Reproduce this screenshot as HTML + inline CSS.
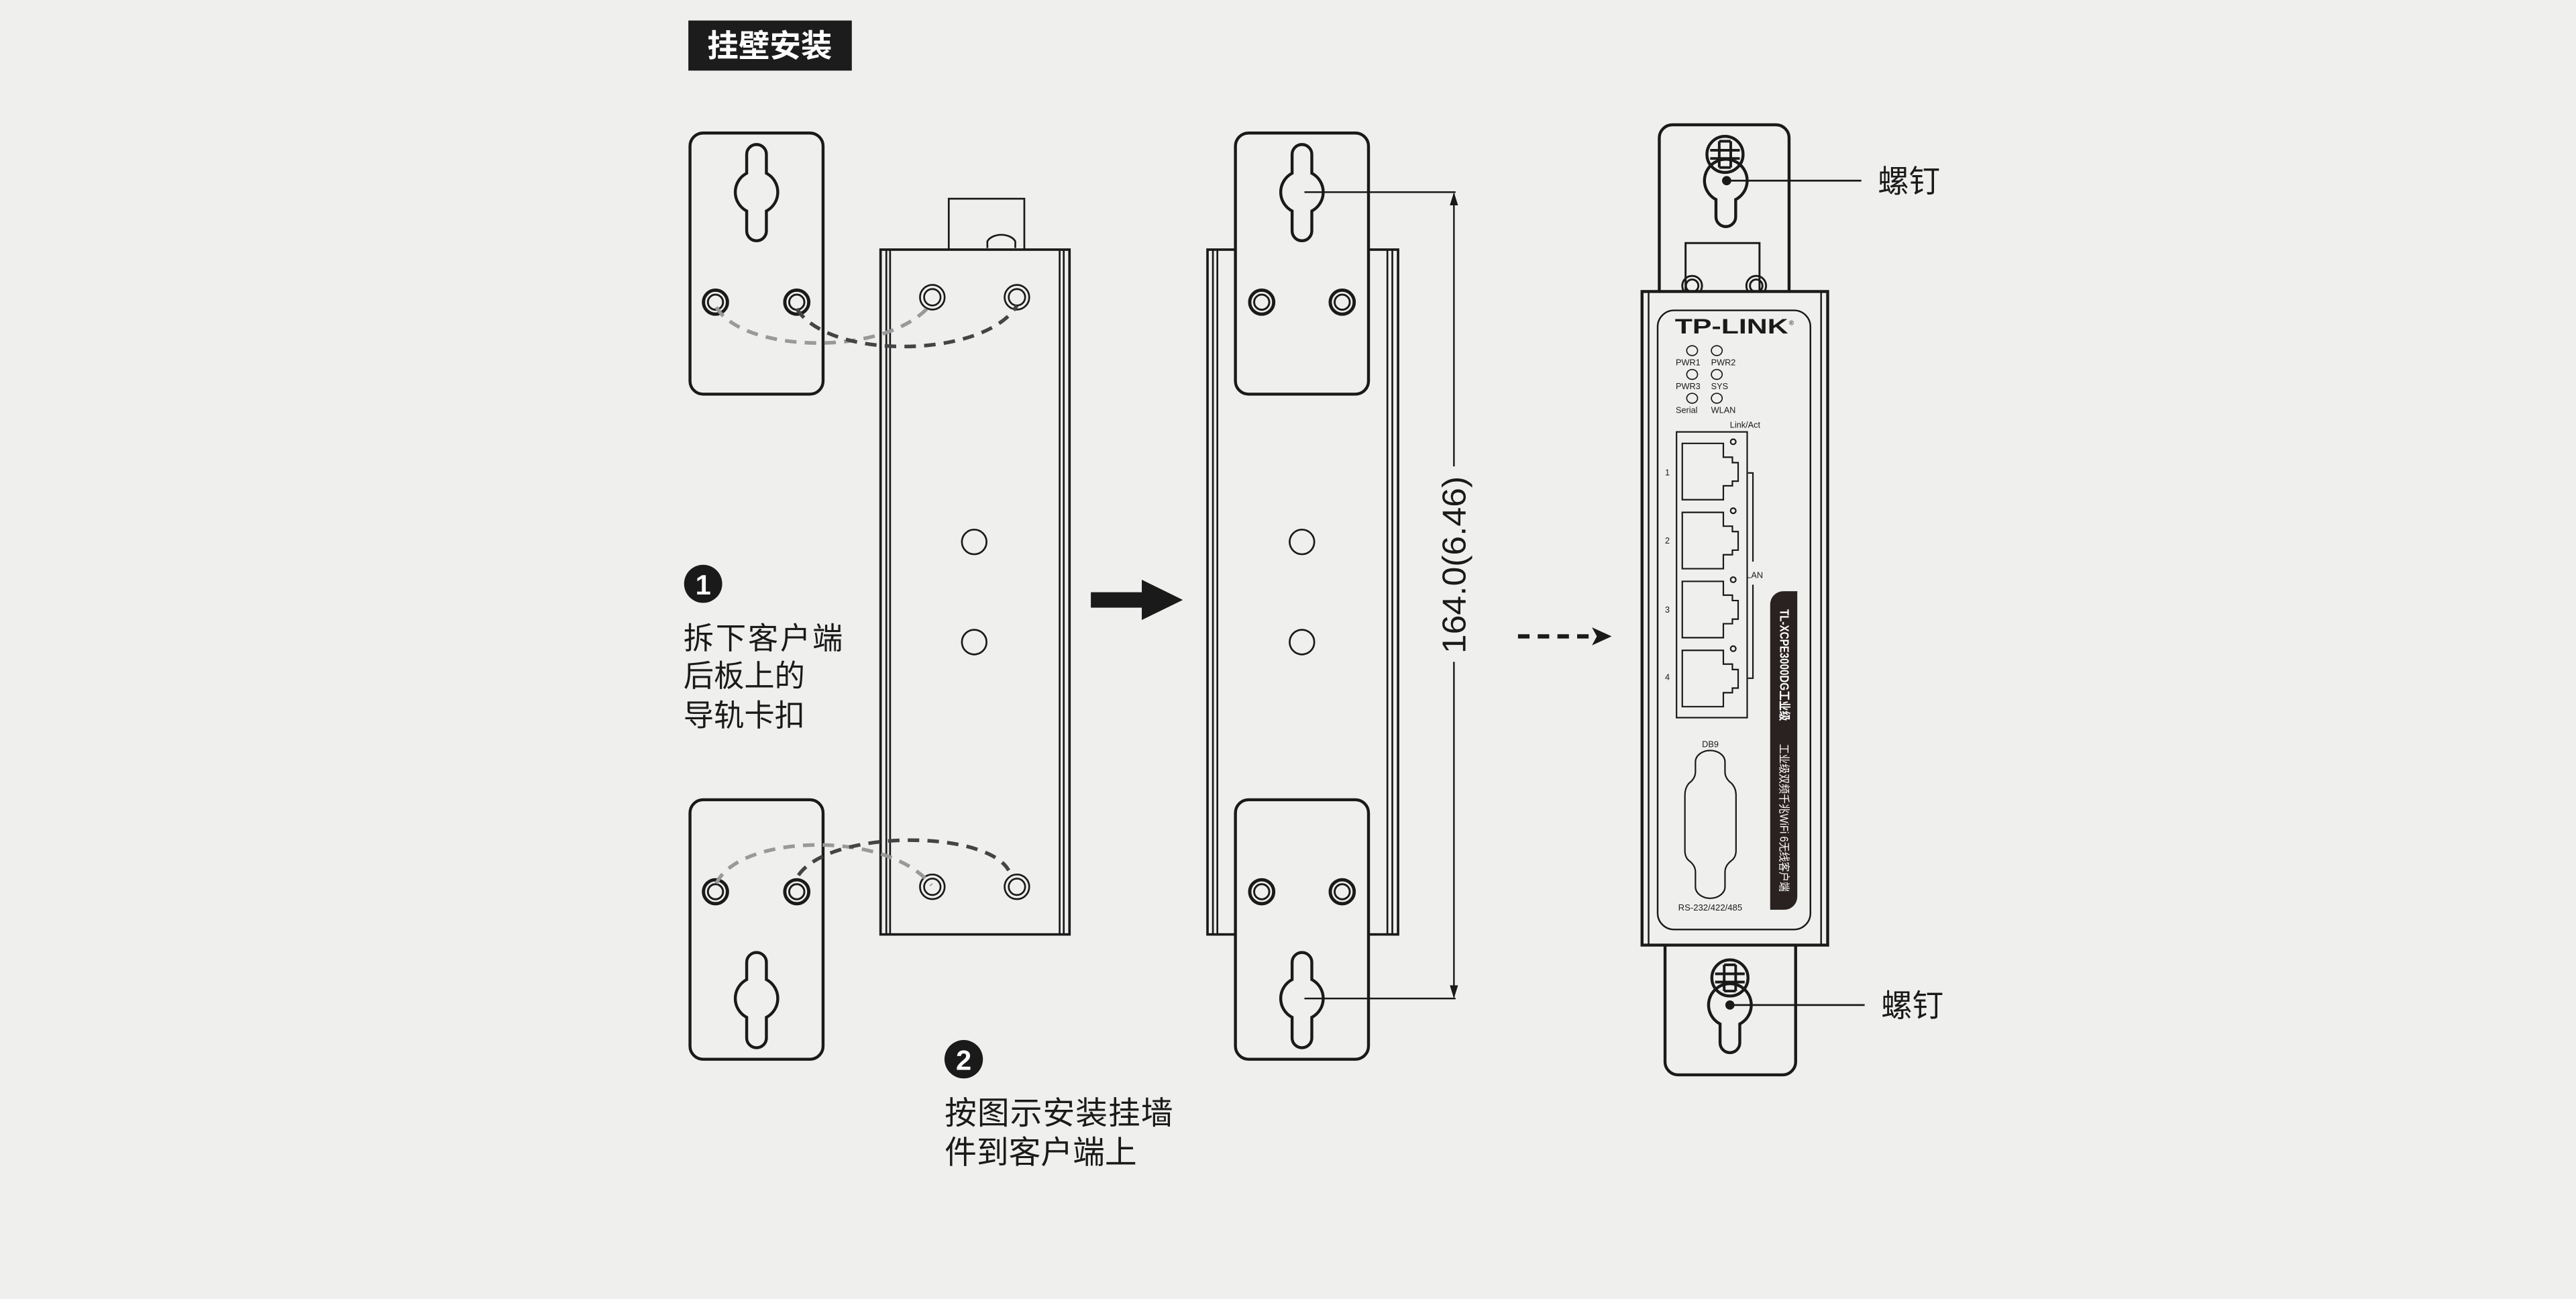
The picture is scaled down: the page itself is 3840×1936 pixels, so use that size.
<!DOCTYPE html>
<html><head><meta charset="utf-8"><style>
html,body{margin:0;padding:0;background:#efefee;}
svg{display:block;}
</style></head><body>
<svg width="3840" height="1936" viewBox="0 0 1568 791" preserveAspectRatio="none" xmlns="http://www.w3.org/2000/svg">
<rect x="0" y="0" width="1568" height="791" fill="#efefee"/>
<defs>
<marker id="ah" markerWidth="8" markerHeight="8" refX="7" refY="4" orient="auto" markerUnits="userSpaceOnUse"><path d="M0,0 L8,4 L0,8 Z" fill="#222"/></marker>
</defs>

<!-- title -->
<rect x="419" y="12.5" width="99.5" height="30.5" fill="#1c1c1c"/>
<text x="468.5" y="34.5" font-family="'Noto Sans CJK SC',sans-serif" font-weight="bold" font-size="19" fill="#fff" text-anchor="middle">挂壁安装</text>

<g fill="none" stroke="#1a1a1a" stroke-width="1.8">
<!-- LEFT: plates -->
<rect x="420" y="81" width="81" height="159" rx="8"/>
<path d="M454.5,94 A6,6 0 0 1 466.5,94 L466.5,105.5 A13,13 0 0 1 466.5,128.5 L466.5,140.6 A6,6 0 0 1 454.5,140.6 L454.5,128.5 A13,13 0 0 1 454.5,105.5 Z"/>
<circle cx="435.5" cy="184" r="7.3" stroke-width="2"/><circle cx="435.5" cy="184" r="4.6" stroke-width="1.2"/>
<circle cx="485" cy="184" r="7.3" stroke-width="2"/><circle cx="485" cy="184" r="4.6" stroke-width="1.2"/>
<rect x="420" y="487" width="81" height="158" rx="8"/>
<path d="M454.5,586 A6,6 0 0 1 466.5,586 L466.5,596.5 A13,13 0 0 1 466.5,619.5 L466.5,632 A6,6 0 0 1 454.5,632 L454.5,619.5 A13,13 0 0 1 454.5,596.5 Z"/>
<circle cx="435.5" cy="543" r="7.3" stroke-width="2"/><circle cx="435.5" cy="543" r="4.6" stroke-width="1.2"/>
<circle cx="485" cy="543" r="7.3" stroke-width="2"/><circle cx="485" cy="543" r="4.6" stroke-width="1.2"/>
</g>

<!-- LEFT device body -->
<g fill="none" stroke="#1a1a1a" stroke-width="1.1">
<rect x="577.5" y="121" width="46" height="31"/>
<path d="M601,151 L601,147 A9,6 0 0 1 618,147 L618,151" />
<rect x="536" y="152" width="115" height="417" stroke-width="1.5"/>
<line x1="539.5" y1="152" x2="539.5" y2="569"/><line x1="541.8" y1="152" x2="541.8" y2="569"/>
<line x1="645" y1="152" x2="645" y2="569"/><line x1="647.5" y1="152" x2="647.5" y2="569"/>
<circle cx="567.5" cy="181" r="7.5"/><circle cx="567.5" cy="181" r="5"/>
<circle cx="619" cy="181" r="7.5"/><circle cx="619" cy="181" r="5"/>
<circle cx="567.5" cy="540" r="7.5"/><circle cx="567.5" cy="540" r="5"/>
<circle cx="619" cy="540" r="7.5"/><circle cx="619" cy="540" r="5"/>
<circle cx="593" cy="330" r="7.5"/><circle cx="593" cy="391" r="7.5"/>
</g>

<!-- dashed curves -->
<g fill="none" stroke-width="2.2" stroke-dasharray="7,5">
<path d="M436,187 C452,215 540,218 567,185" stroke="#999"/>
<path d="M485,188 C505,220 600,218 619,186" stroke="#444"/>
<path d="M436,538 C450,508 540,505 567,539" stroke="#999"/>
<path d="M486,533 C505,505 600,505 614,530" stroke="#444"/>
</g>

<!-- solid arrow -->
<path d="M664,360.6 L695,360.6 L695,353 L720,365.3 L695,377.5 L695,370 L664,370 Z" fill="#1a1a1a"/>

<!-- MIDDLE device -->
<g fill="none" stroke="#1a1a1a" stroke-width="1.1">
<rect x="735" y="152" width="116" height="417" stroke-width="1.5"/>
<line x1="738.3" y1="152" x2="738.3" y2="569"/><line x1="741" y1="152" x2="741" y2="569"/>
<line x1="844.5" y1="152" x2="844.5" y2="569"/><line x1="847.5" y1="152" x2="847.5" y2="569"/>
<circle cx="792.5" cy="330" r="7.5"/><circle cx="792.5" cy="391" r="7.5"/>
</g>
<g fill="#efefee" stroke="#1a1a1a" stroke-width="1.8">
<rect x="752" y="81" width="81" height="159" rx="8"/>
<rect x="752" y="487" width="81" height="158" rx="8"/>
</g>
<g fill="none" stroke="#1a1a1a" stroke-width="1.8">
<path d="M786.5,94 A6,6 0 0 1 798.5,94 L798.5,105.5 A13,13 0 0 1 798.5,128.5 L798.5,140.6 A6,6 0 0 1 786.5,140.6 L786.5,128.5 A13,13 0 0 1 786.5,105.5 Z"/>
<path d="M786.5,586 A6,6 0 0 1 798.5,586 L798.5,596.5 A13,13 0 0 1 798.5,619.5 L798.5,632 A6,6 0 0 1 786.5,632 L786.5,619.5 A13,13 0 0 1 786.5,596.5 Z"/>
<circle cx="768" cy="184" r="7.3" stroke-width="2"/><circle cx="768" cy="184" r="4.6" stroke-width="1.2"/>
<circle cx="817" cy="184" r="7.3" stroke-width="2"/><circle cx="817" cy="184" r="4.6" stroke-width="1.2"/>
<circle cx="768" cy="543" r="7.3" stroke-width="2"/><circle cx="768" cy="543" r="4.6" stroke-width="1.2"/>
<circle cx="817" cy="543" r="7.3" stroke-width="2"/><circle cx="817" cy="543" r="4.6" stroke-width="1.2"/>
</g>
<!-- dimension -->
<g stroke="#1a1a1a" stroke-width="1" fill="none">
<line x1="794" y1="117" x2="886" y2="117"/>
<line x1="794" y1="608" x2="886" y2="608"/>
<line x1="885" y1="118" x2="885" y2="284"/>
<line x1="885" y1="403" x2="885" y2="607"/>
</g>
<path d="M885,117 L882.5,125 L887.5,125 Z" fill="#1a1a1a"/>
<path d="M885,608 L882.5,600 L887.5,600 Z" fill="#1a1a1a"/>
<text transform="translate(892,344) rotate(-90)" font-family="'Liberation Sans',sans-serif" font-size="20" fill="#1a1a1a" text-anchor="middle" textLength="108" lengthAdjust="spacingAndGlyphs">164.0(6.46)</text>

<!-- dashed arrow -->
<line x1="924" y1="387.5" x2="970" y2="387.5" stroke="#1a1a1a" stroke-width="2.6" stroke-dasharray="7,5"/>
<path d="M981,387.5 L969,382 L972,387.5 L969,393 Z" fill="#1a1a1a"/>

<!-- RIGHT device -->
<g fill="#efefee" stroke="#1a1a1a" stroke-width="1.8">
<rect x="1010" y="76" width="79" height="120" rx="8"/>
<path d="M1013.5,576 L1013.5,646 A8,8 0 0 0 1021.5,654.5 L1085,654.5 A8,8 0 0 0 1093,646 L1093,576"/>
</g>
<g fill="none" stroke="#1a1a1a" stroke-width="1.8">
<path d="M1056.5,121.5 L1056.5,132 A6,6 0 0 1 1044.5,132 L1044.5,121.5 A13,13 0 1 1 1056.5,121.5 Z"/>
<path d="M1059,623.5 L1059,635 A6,6 0 0 1 1047,635 L1047,623.5 A13,13 0 1 1 1059,623.5 Z"/>
<circle cx="1050" cy="94" r="11"/>
<circle cx="1053" cy="595.5" r="11"/>
<path d="M1046.5,86 L1053.5,86 M1046.5,86 L1046.5,102 M1053.5,86 L1053.5,102 M1046.5,102 L1053.5,102 M1041,91.5 L1059,91.5 M1041,96.5 L1059,96.5" stroke-width="1.6"/>
<path d="M1049.5,587.5 L1056.5,587.5 M1049.5,587.5 L1049.5,603.5 M1056.5,587.5 L1056.5,603.5 M1049.5,603.5 L1056.5,603.5 M1044,593 L1062,593 M1044,598 L1062,598" stroke-width="1.6"/>
</g>
<circle cx="1051" cy="110" r="2.8" fill="#1a1a1a"/>
<circle cx="1053" cy="612" r="2.8" fill="#1a1a1a"/>
<line x1="1051" y1="110" x2="1133" y2="110" stroke="#1a1a1a" stroke-width="1.1"/>
<line x1="1053" y1="612" x2="1135" y2="612" stroke="#1a1a1a" stroke-width="1.1"/>
<text x="1143" y="117" font-family="'Noto Sans CJK SC',sans-serif" font-size="19" fill="#1a1a1a">螺钉</text>
<text x="1145" y="619" font-family="'Noto Sans CJK SC',sans-serif" font-size="19" fill="#1a1a1a">螺钉</text>

<g fill="none" stroke="#1a1a1a" stroke-width="1.2">
<rect x="1026" y="148" width="45" height="30"/>
<circle cx="1030" cy="174" r="6"/><circle cx="1030" cy="174" r="3.8"/>
<circle cx="1069" cy="174" r="6"/><circle cx="1069" cy="174" r="3.8"/>
</g>
<rect x="999.5" y="177.5" width="113" height="398" fill="#efefee" stroke="#1a1a1a" stroke-width="1.8"/>
<g stroke="#1a1a1a" stroke-width="1">
<line x1="1003.5" y1="178" x2="1003.5" y2="575"/>
<line x1="1108.5" y1="178" x2="1108.5" y2="575"/>
</g>
<rect x="1009" y="189" width="93" height="377" rx="10" fill="none" stroke="#1a1a1a" stroke-width="1"/>
<text x="1019.5" y="203" font-family="'Liberation Sans',sans-serif" font-weight="bold" font-size="13" fill="#1a1a1a" textLength="69" lengthAdjust="spacingAndGlyphs">TP-LINK</text>
<text x="1089" y="198" font-family="'Liberation Sans',sans-serif" font-size="4" fill="#1a1a1a">®</text>
<g fill="none" stroke="#1a1a1a" stroke-width="0.7">
<ellipse cx="1030" cy="213.5" rx="3.3" ry="3"/><ellipse cx="1045" cy="213.5" rx="3.3" ry="3"/>
<ellipse cx="1030" cy="228" rx="3.3" ry="3"/><ellipse cx="1045" cy="228" rx="3.3" ry="3"/>
<ellipse cx="1030" cy="242.5" rx="3.3" ry="3"/><ellipse cx="1045" cy="242.5" rx="3.3" ry="3"/>
</g>
<g font-family="'Liberation Sans',sans-serif" font-size="5.2" fill="#1a1a1a">
<text x="1020" y="222.5">PWR1</text><text x="1041.5" y="222.5">PWR2</text>
<text x="1020" y="237">PWR3</text><text x="1041.5" y="237">SYS</text>
<text x="1020" y="251.5">Serial</text><text x="1041.5" y="251.5">WLAN</text>
<text x="1053" y="260.5">Link/Act</text>
<text x="1013.5" y="289.5">1</text><text x="1013.5" y="331">2</text><text x="1013.5" y="373">3</text><text x="1013.5" y="414">4</text>
<text x="1063" y="352">LAN</text>
<text x="1036" y="455">DB9</text>
<text x="1021.5" y="554.5" textLength="39" lengthAdjust="spacingAndGlyphs">RS-232/422/485</text>
</g>
<g fill="none" stroke="#1a1a1a" stroke-width="0.9">
<rect x="1020.5" y="263" width="43" height="174"/>
<path d="M1024,270 L1049,270 L1049,278.4 L1054.5,278.4 L1054.5,281.7 L1058,281.7 L1058,293 L1054.5,293 L1054.5,295.8 L1049,295.8 L1049,304.3 L1024,304.3 Z"/>
<path d="M1024,312 L1049,312 L1049,320.4 L1054.5,320.4 L1054.5,323.7 L1058,323.7 L1058,335 L1054.5,335 L1054.5,337.8 L1049,337.8 L1049,346.3 L1024,346.3 Z"/>
<path d="M1024,354 L1049,354 L1049,362.4 L1054.5,362.4 L1054.5,365.7 L1058,365.7 L1058,377 L1054.5,377 L1054.5,379.8 L1049,379.8 L1049,388.3 L1024,388.3 Z"/>
<path d="M1024,396 L1049,396 L1049,404.4 L1054.5,404.4 L1054.5,407.7 L1058,407.7 L1058,419 L1054.5,419 L1054.5,421.8 L1049,421.8 L1049,430.3 L1024,430.3 Z"/>
<circle cx="1055" cy="269" r="1.6"/><circle cx="1055" cy="311" r="1.6"/><circle cx="1055" cy="353" r="1.6"/><circle cx="1055" cy="395" r="1.6"/>
<path d="M1064,288 L1067,288 L1067,342 M1067,356 L1067,413 L1064,413"/>
<path d="M1032,470 L1032,464 A9,7 0 0 1 1050,464 L1050,470 Q1050,474 1054,477 Q1056.7,480 1056.7,484 L1056.7,518 Q1056.7,522 1054,524 Q1050,527 1050,531 L1050,540 A9,7 0 0 1 1032,540 L1032,531 Q1032,527 1028,524 Q1025.6,522 1025.6,518 L1025.6,484 Q1025.6,480 1028,477 Q1032,474 1032,470 Z"/>
</g>
<path d="M1077.5,554 L1077.5,368 A8,8 0 0 1 1085.5,360 L1094,360 L1094,546 A8,8 0 0 1 1086,554 Z" fill="#2a2220"/>
<text transform="translate(1083.5,371) rotate(90)" font-family="'Liberation Sans','Noto Sans CJK SC',sans-serif" font-weight="bold" font-size="7.5" fill="#fff" textLength="68" lengthAdjust="spacingAndGlyphs">TL-XCPE3000DG工业级</text>
<text transform="translate(1083.5,453) rotate(90)" font-family="'Liberation Sans','Noto Sans CJK SC',sans-serif" font-size="7" fill="#fff" textLength="90" lengthAdjust="spacingAndGlyphs">工业级双频千兆WiFi 6无线客户端</text>

<!-- step labels -->
<circle cx="428" cy="355.5" r="11.6" fill="#1a1a1a"/>
<text x="428" y="362" font-family="'Liberation Sans',sans-serif" font-weight="bold" font-size="17" fill="#fff" text-anchor="middle">1</text>
<g font-family="'Noto Sans CJK SC',sans-serif" font-size="18.5" fill="#1a1a1a">
<text x="416" y="395" textLength="97" lengthAdjust="spacing">拆下客户端</text>
<text x="416" y="418">后板上的</text>
<text x="416" y="442">导轨卡扣</text>
</g>
<circle cx="586.6" cy="645" r="11.7" fill="#1a1a1a"/>
<text x="586.6" y="651.5" font-family="'Liberation Sans',sans-serif" font-weight="bold" font-size="17" fill="#fff" text-anchor="middle">2</text>
<g font-family="'Noto Sans CJK SC',sans-serif" font-size="19.5" fill="#1a1a1a">
<text x="575" y="684.5" textLength="139" lengthAdjust="spacing">按图示安装挂墙</text>
<text x="575" y="708.5">件到客户端上</text>
</g>
</svg>
</body></html>
